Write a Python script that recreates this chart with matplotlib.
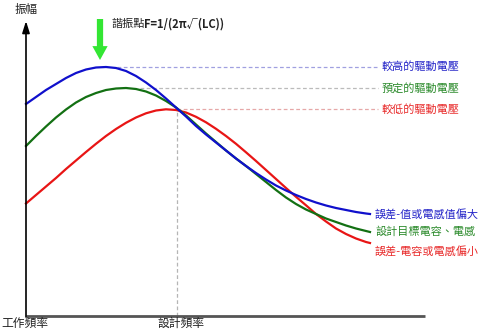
import matplotlib
matplotlib.use("Agg")
import matplotlib.pyplot as plt

plt.rcParams['font.family'] = ['Noto Sans CJK TC', 'DejaVu Sans']

# Resonance curves: frequency (arbitrary units) vs amplitude, sampled on a common grid
freq = [0.0, 0.1, 0.2, 0.3, 0.4, 0.5, 0.6, 0.7, 0.8, 0.9, 1.0, 1.1, 1.2,
        1.3, 1.4, 1.5, 1.6, 1.7, 1.8, 1.9, 2.0, 2.1, 2.2, 2.3, 2.4, 2.5,
        2.6, 2.7, 2.8, 2.9, 3.0, 3.1, 3.2, 3.3, 3.4, 3.44]

# high drive voltage / L or C larger than designed
blue_a = [2.12, 2.19, 2.26, 2.32, 2.38, 2.43, 2.465, 2.485, 2.49, 2.48, 2.45, 2.40,
          2.335, 2.26, 2.175, 2.085, 1.995, 1.90, 1.815, 1.735, 1.655, 1.575, 1.50,
          1.43, 1.365, 1.305, 1.255, 1.21, 1.17, 1.135, 1.105, 1.08, 1.06, 1.04,
          1.025, 1.02]

# nominal drive voltage / design L and C
green_a = [1.70, 1.80, 1.895, 1.985, 2.065, 2.135, 2.19, 2.23, 2.26, 2.275, 2.28,
           2.27, 2.245, 2.205, 2.15, 2.085, 2.005, 1.915, 1.825, 1.74, 1.655, 1.575,
           1.50, 1.42, 1.34, 1.26, 1.185, 1.12, 1.065, 1.02, 0.975, 0.94, 0.905,
           0.875, 0.85, 0.84]

# low drive voltage / L or C smaller than designed
red_a = [1.125, 1.21, 1.295, 1.38, 1.47, 1.555, 1.64, 1.722, 1.80, 1.87, 1.932,
         1.985, 2.027, 2.055, 2.067, 2.06, 2.035, 1.992, 1.937, 1.872, 1.80, 1.722,
         1.637, 1.55, 1.46, 1.37, 1.28, 1.192, 1.107, 1.02, 0.945, 0.875, 0.82,
         0.775, 0.74, 0.73]

design_freq = 1.51
resonance_freq = 0.74

voltage_labels = ['較高的驅動電壓', '預定的驅動電壓', '較低的驅動電壓']
error_labels = ['誤差-值或電感值偏大', '設計目標電容、電感', '誤差-電容或電感偏小']

BLUE = '#1010cc'
GREEN = '#137013'
RED = '#e81515'
TXT = ['#2424c8', '#2a8a2a', '#e82a2a']
DASH = ['#a0a0e0', '#bbbbbb', '#e6a8a8']

fig = plt.figure(figsize=(4.88, 3.31), dpi=100)
ax = fig.add_axes([0, 0, 1, 1])
ax.set_xlim(-0.26, 4.62)
ax.set_ylim(-0.15, 3.16)
ax.axis('off')

# Reference levels for each drive voltage
peaks = [max(blue_a), max(green_a), max(red_a)]
starts = [0.91, 1.14, design_freq]
for lvl, x0, c in zip(peaks, starts, DASH):
    ax.plot([x0, 3.52], [lvl, lvl], color=c, lw=0.9, ls=(0, (3, 2)))
ax.plot([design_freq, design_freq], [0, max(red_a)], color='#b5b5b5', lw=0.9, ls=(0, (3, 2)))

ax.plot(freq, red_a, color=RED, lw=1.6, solid_joinstyle='round')
ax.plot(freq, green_a, color=GREEN, lw=1.6, solid_joinstyle='round')
ax.plot(freq, blue_a, color=BLUE, lw=1.6, solid_joinstyle='round')

# Axes
ax.plot([0, 3.99], [0, 0], color='#555555', lw=2.0, solid_capstyle='butt')
ax.annotate('', xy=(0, 2.95), xytext=(0, -0.01),
            arrowprops=dict(arrowstyle='-|>,head_length=0.7,head_width=0.22',
                            color='black', lw=1.2, shrinkA=0, shrinkB=0))

# Resonance marker arrow
ax.annotate('', xy=(resonance_freq, 2.56), xytext=(resonance_freq, 2.97),
            arrowprops=dict(arrowstyle='simple,head_length=1.0,head_width=1.1,tail_width=0.45',
                            color='#33e633', lw=0, shrinkA=0, shrinkB=0))

ax.text(0.86, 2.92, '諧振點', fontsize=8, color='#222222', va='center', ha='left')
ax.text(1.18, 2.92, 'F=1/(2π√(LC))', fontsize=8, color='#222222',
        va='center', ha='left', fontweight='bold')

ax.text(-0.11, 3.07, '振幅', fontsize=8.3, color='#222222', va='center', ha='left')
ax.text(-0.25, -0.075, '工作頻率', fontsize=8.5, color='#222222', va='center', ha='left')
ax.text(design_freq + 0.04, -0.075, '設計頻率', fontsize=8.5, color='#222222', va='center', ha='center')

for lvl, lab, c in zip(peaks, voltage_labels, TXT):
    ax.text(3.56, lvl, lab, fontsize=8, color=c, va='center', ha='left')

ends = [blue_a[-1], green_a[-1], red_a[-1] - 0.08]
for lvl, lab, c in zip(ends, error_labels, TXT):
    ax.text(3.49, lvl, lab, fontsize=8, color=c, va='center', ha='left')

fig.savefig('out.png', dpi=100)
